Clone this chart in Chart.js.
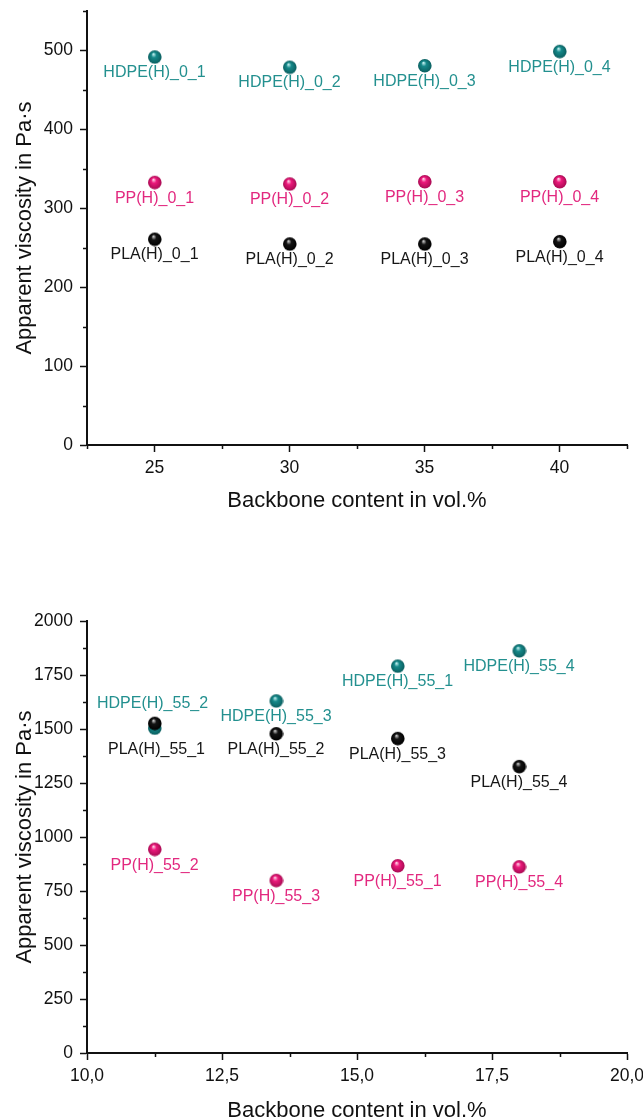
<!DOCTYPE html>
<html>
<head>
<meta charset="utf-8">
<title>Apparent viscosity vs backbone content</title>
<script src="https://cdn.jsdelivr.net/npm/chart.js@4.4.0/dist/chart.umd.min.js"></script>
<style>
  html, body { margin: 0; padding: 0; background: #fff; overflow: hidden; width: 643px; height: 1120px; }
  .panel { position: absolute; left: 0; }
</style>
</head>
<body>
<div class="panel" style="top:0"><canvas id="chartTop" width="660" height="560"></canvas></div>
<div class="panel" style="top:560px"><canvas id="chartBottom" width="660" height="570"></canvas></div>
<script>
// ---- series for the upper panel (no additive, _0_ blends) ----
const backbone0 = [25, 30, 35, 40];
const hdpe0 = [492, 479, 481, 499];
const pp0 = [333, 331, 334, 334];
const pla0 = [261, 255, 255, 258];
const hdpe0Names = ['HDPE(H)_0_1', 'HDPE(H)_0_2', 'HDPE(H)_0_3', 'HDPE(H)_0_4'];
const pp0Names = ['PP(H)_0_1', 'PP(H)_0_2', 'PP(H)_0_3', 'PP(H)_0_4'];
const pla0Names = ['PLA(H)_0_1', 'PLA(H)_0_2', 'PLA(H)_0_3', 'PLA(H)_0_4'];

// ---- series for the lower panel (_55_ blends) ----
const backbone55 = [11.25, 13.5, 15.75, 18];
const hdpe55 = [1505, 1631, 1792, 1863];
const pp55 = [944, 800, 868, 863];
const pla55 = [1527, 1479, 1457, 1327];
const hdpe55Names = ['HDPE(H)_55_2', 'HDPE(H)_55_3', 'HDPE(H)_55_1', 'HDPE(H)_55_4'];
const pp55Names = ['PP(H)_55_2', 'PP(H)_55_3', 'PP(H)_55_1', 'PP(H)_55_4'];
const pla55Names = ['PLA(H)_55_1', 'PLA(H)_55_2', 'PLA(H)_55_3', 'PLA(H)_55_4'];

const FONT = '"Liberation Sans", Arial, sans-serif';
Chart.defaults.font.family = FONT;
Chart.defaults.color = '#111';

// shaded ball used as the point marker
function sphere(base, dark, light, r) {
  const c = document.createElement('canvas');
  const s = r * 2 + 2;
  c.width = s; c.height = s;
  const g = c.getContext('2d');
  const cx = s / 2, cy = s / 2;
  const grad = g.createRadialGradient(cx - r * 0.2, cy - r * 0.45, r * 0.05, cx, cy, r);
  grad.addColorStop(0, light);
  grad.addColorStop(0.35, base);
  grad.addColorStop(1, dark);
  g.fillStyle = grad;
  g.beginPath();
  g.arc(cx, cy, r, 0, Math.PI * 2);
  g.fill();
  return c;
}

const tealBall = sphere('#16898a', '#0b5f60', '#bfeeee', 6.8);
const pinkBall = sphere('#ec1a7c', '#a80a52', '#ffd0e6', 6.8);
const blackBall = sphere('#151515', '#000000', '#c8c8c8', 6.8);

const TEAL_TEXT = '#23908f';
const PINK_TEXT = '#e2287f';
const BLACK_TEXT = '#161616';

function isMajor(v, step) {
  return Math.abs(v / step - Math.round(v / step)) < 1e-6;
}

function points(xs, ys) {
  return xs.map((x, i) => ({ x: x, y: ys[i] }));
}

// name printed under each ball, nudged where two balls sit close together
const pointLabels = {
  id: 'pointLabels',
  afterDatasetsDraw(chart, args, opts) {
    const ctx = chart.ctx;
    ctx.save();
    ctx.font = '16px ' + FONT;
    ctx.textAlign = 'center';
    ctx.textBaseline = 'middle';
    chart.data.datasets.forEach((ds, di) => {
      const meta = chart.getDatasetMeta(di);
      meta.data.forEach((pt, i) => {
        const text = ds.names[i];
        const nudge = (opts.nudge && opts.nudge[text]) || [0, 16];
        ctx.fillStyle = ds.textColor;
        ctx.fillText(text, pt.x + nudge[0], pt.y + nudge[1]);
      });
    });
    ctx.restore();
  }
};

// short ticks between the labelled ones
const minorTicks = {
  id: 'minorTicks',
  afterDraw(chart, args, opts) {
    const ctx = chart.ctx;
    ctx.save();
    ctx.strokeStyle = '#111';
    ctx.lineWidth = 1.5;
    const xs = chart.scales.x, ys = chart.scales.y;
    ctx.beginPath();
    xs.ticks.forEach(t => {
      if (isMajor(t.value, opts.xStep)) return;
      const px = Math.round(xs.getPixelForValue(t.value)) + 0.5;
      ctx.moveTo(px, xs.top);
      ctx.lineTo(px, xs.top + 4);
    });
    ys.ticks.forEach(t => {
      if (isMajor(t.value, opts.yStep)) return;
      const py = Math.round(ys.getPixelForValue(t.value)) + 0.5;
      ctx.moveTo(ys.right, py);
      ctx.lineTo(ys.right - 4, py);
    });
    ctx.stroke();
    ctx.restore();
  }
};

function axis(min, max, step, majorStep, fmt, titleText, isY, size) {
  return {
    type: 'linear',
    position: isY ? 'left' : 'bottom',
    min: min,
    max: max,
    border: { display: true, color: '#111', width: 2 },
    grid: {
      display: true,
      drawOnChartArea: false,
      drawTicks: true,
      tickLength: 7,
      tickWidth: 1.5,
      tickColor: c => (c.tick && isMajor(c.tick.value, majorStep)) ? '#111' : 'rgba(0,0,0,0)'
    },
    ticks: {
      stepSize: step,
      autoSkip: false,
      maxRotation: 0,
      padding: isY ? 7 : 6,
      font: { size: 17.5 },
      color: '#111',
      callback: v => isMajor(v, majorStep) ? fmt(v) : ''
    },
    title: {
      display: true,
      text: titleText,
      font: { size: 22 },
      color: '#111',
      padding: isY ? { top: 12, bottom: 0 } : { top: 0, bottom: 0 }
    },
    // fixed axis box; the layout padding alone decides where the plot area sits
    afterFit: s => {
      if (isY) s.width = size; else s.height = size;
      s.paddingTop = 0;
      s.paddingBottom = 0;
      s.paddingLeft = 0;
      s.paddingRight = 0;
    }
  };
}

function buildChart(id, sets, xAxis, yAxis, pad, steps, nudge) {
  return new Chart(document.getElementById(id), {
    type: 'scatter',
    data: { datasets: sets },
    options: {
      responsive: false,
      animation: false,
      layout: { padding: pad },
      plugins: {
        legend: { display: false },
        tooltip: { enabled: false },
        pointLabels: { nudge: nudge },
        minorTicks: steps
      },
      scales: { x: xAxis, y: yAxis }
    },
    plugins: [pointLabels, minorTicks]
  });
}

function series(xs, ys, names, ball, textColor) {
  return {
    data: points(xs, ys),
    names: names,
    textColor: textColor,
    pointStyle: ball,
    pointRadius: 7,
    showLine: false
  };
}

const xTitle = 'Backbone content in vol.%';
const yTitle = 'Apparent viscosity in Pa·s';
const plain = v => String(v);
const comma = v => v.toFixed(1).replace('.', ',');

// PLA listed first so its balls are drawn on top
buildChart('chartTop', [
    series(backbone0, pla0, pla0Names, blackBall, BLACK_TEXT),
    series(backbone0, pp0, pp0Names, pinkBall, PINK_TEXT),
    series(backbone0, hdpe0, hdpe0Names, tealBall, TEAL_TEXT)
  ],
  axis(22.5, 42.5, 2.5, 5, plain, xTitle, false, 69),
  axis(0, 550, 50, 100, plain, yTitle, true, 87),
  { top: 11, right: 33, bottom: 46, left: 0 },
  { xStep: 5, yStep: 100 },
  {}
);

buildChart('chartBottom', [
    series(backbone55, pla55, pla55Names, blackBall, BLACK_TEXT),
    series(backbone55, pp55, pp55Names, pinkBall, PINK_TEXT),
    series(backbone55, hdpe55, hdpe55Names, tealBall, TEAL_TEXT)
  ],
  axis(10, 20, 1.25, 2.5, comma, xTitle, false, 71),
  axis(0, 2000, 125, 250, plain, yTitle, true, 87),
  { top: 61, right: 33, bottom: 6, left: 0 },
  { xStep: 2.5, yStep: 250 },
  { 'HDPE(H)_55_2': [-2, -24], 'PLA(H)_55_1': [2, 26] }
);
</script>
</body>
</html>
